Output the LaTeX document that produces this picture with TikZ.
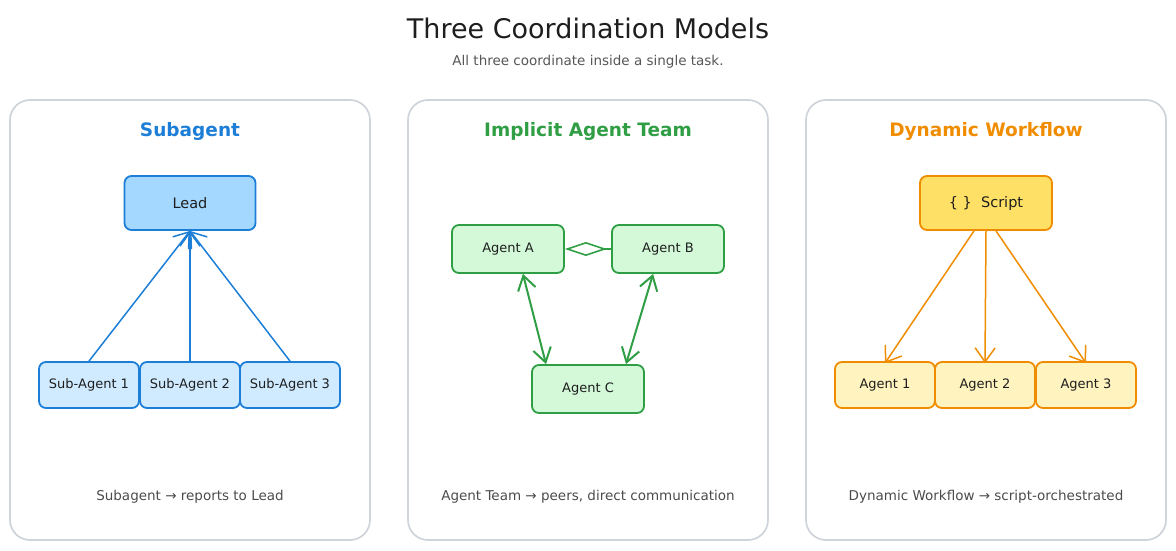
\documentclass[tikz,border=0pt]{standalone}
\usepackage{fontspec}
\setmainfont{DejaVu Sans}
\usetikzlibrary{arrows.meta}
\definecolor{bluS}{HTML}{1C7ED6}\definecolor{bluF}{HTML}{A5D8FF}\definecolor{bluL}{HTML}{D0EBFF}
\definecolor{grnS}{HTML}{2F9E44}\definecolor{grnF}{HTML}{D3F9D8}
\definecolor{orS}{HTML}{F08C00}\definecolor{orF}{HTML}{FFE066}\definecolor{orL}{HTML}{FFF3BF}
\definecolor{pan}{HTML}{CED4DA}\definecolor{txt}{HTML}{1E1E1E}
\begin{document}
\begin{tikzpicture}[x=1pt,y=-1pt,
 panel/.style={draw=pan,line width=1.7pt,rounded corners=20pt},
 box/.style={rectangle,rounded corners=7pt,line width=1.8pt,text=txt,font=\fontsize{13}{15}\selectfont},
 bl/.style={box,draw=bluS,fill=bluL,minimum width=100pt,minimum height=46pt},
 gr/.style={box,draw=grnS,fill=grnF,minimum width=112pt,minimum height=48pt},
 orb/.style={box,draw=orS,fill=orL,minimum width=100pt,minimum height=46pt},
 hd/.style={font=\bfseries\fontsize{18.5}{22}\selectfont},
 captxt/.style={font=\fontsize{13.5}{16}\selectfont,text=txt!80},
 arr/.style={line width=1.5pt,-{Straight Barb[length=14pt,width=20pt]}}]
\useasboundingbox (0,0) rectangle (1176,550);
\node[font=\fontsize{27}{32}\selectfont,text=txt] (title) at (588,28) {Three Coordination Models};
\node[font=\fontsize{13.5}{16}\selectfont,text=txt!75] (sub) at (588,62) {All three coordinate inside a single task.};
\draw[panel] (10,100) rectangle (370,540);
\draw[panel] (408,100) rectangle (768,540);
\draw[panel] (806,100) rectangle (1166,540);
% left
\node[hd,text=bluS] (h1) at (190,131) {Subagent};
\node[box,draw=bluS,fill=bluF,minimum width=131pt,minimum height=54pt,font=\fontsize{14.5}{17}\selectfont] (lead) at (190,203) {Lead};
\node[bl] (s1) at (89,385) {Sub-Agent 1};
\node[bl] (s2) at (190,385) {Sub-Agent 2};
\node[bl] (s3) at (290,385) {Sub-Agent 3};
\foreach \s in {s1,s2,s3} \draw[arr,draw=bluS] (\s.north) -- (lead.south);
\node[captxt] (c1) at (190,497) {Subagent → reports to Lead};
% middle
\node[hd,text=grnS] (h2) at (588,131) {Implicit Agent Team};
\node[gr] (a) at (508,249) {Agent A};
\node[gr] (b) at (668,249) {Agent B};
\node[gr] (c) at (588,389) {Agent C};
\draw[grnS,line width=1.6pt,{Diamond[open,length=42pt,width=14pt]}-] (a.east) -- (b.west);
\draw[grnS,line width=2pt,{Straight Barb[length=14pt,width=18pt]}-{Straight Barb[length=14pt,width=18pt]}] ([xshift=-42]a.south east) -- ([xshift=-42]c.north);
\draw[grnS,line width=2pt,{Straight Barb[length=14pt,width=18pt]}-{Straight Barb[length=14pt,width=18pt]}] ([xshift=42]b.south west) -- ([xshift=38]c.north);
\node[captxt] (c2) at (588,497) {Agent Team → peers, direct communication};
% right
\node[hd,text=orS] (h3) at (986,131) {Dynamic Workflow};
\node[box,draw=orS,fill=orF,minimum width=132pt,minimum height=54pt,font=\fontsize{14.5}{17}\selectfont] (scr) at (986,203) {\{ \}\ \ Script};
\node[orb] (o1) at (885,385) {Agent 1};
\node[orb] (o2) at (985,385) {Agent 2};
\node[orb] (o3) at (1086,385) {Agent 3};
\draw[arr,draw=orS] ([xshift=-12]scr.south) -- ([yshift=-2]o1.north);
\draw[arr,draw=orS] (scr.south) -- ([yshift=-2]o2.north);
\draw[arr,draw=orS] ([xshift=10]scr.south) -- ([yshift=-2]o3.north);
\node[captxt] (c3) at (986,497) {Dynamic Workflow → script-orchestrated};
\end{tikzpicture}
\end{document}
